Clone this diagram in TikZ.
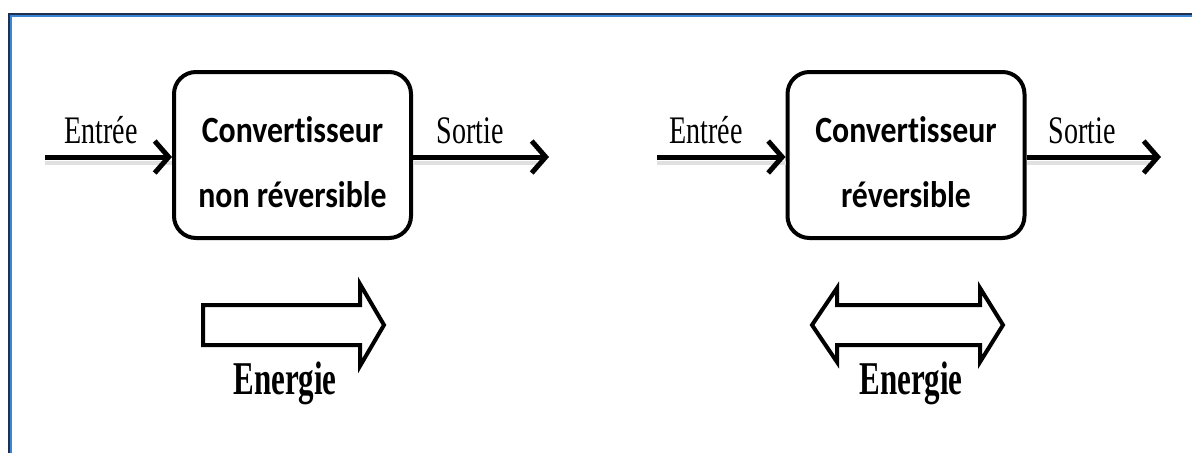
\documentclass[tikz,border=0pt]{standalone}
\usepackage{fontspec}
\setmainfont{Liberation Serif}
\newfontfamily\boxfont[FakeStretch=0.86,RawFeature=-liga]{Carlito}
\newfontfamily\lblfont[FakeStretch=0.72]{Liberation Serif}
\newfontfamily\enfont[FakeStretch=0.66]{Liberation Serif}
\usetikzlibrary{arrows.meta}
\definecolor{framedark}{HTML}{1F3050}
\definecolor{frameblue}{HTML}{3A86D6}
\begin{document}
\begin{tikzpicture}[x=1pt,y=-1pt,
  conv/.style={draw, line width=4pt, rounded corners=22pt, minimum width=237pt, minimum height=166pt, inner sep=0pt},
  convtext/.style={align=center, inner sep=0pt, font=\boxfont\bfseries\fontsize{37}{65}\selectfont},
  lbl/.style={font=\lblfont\fontsize{39}{44}\selectfont, inner sep=0pt, anchor=base},
  flow/.style={line width=5pt, -{Straight Barb[length=14pt,width=32pt]}},
  shadowline/.style={line width=4pt, black!12},
  bigarrow/.style={draw, line width=4pt, fill=white, line join=miter},
  en/.style={font=\enfont\bfseries\fontsize{47}{52}\selectfont, inner sep=0pt, anchor=base}
]
\useasboundingbox (0,0) rectangle (1192,453);
% frame
\draw[framedark, line width=2pt] (1192,13.5) -- (8.5,13.5) -- (8.5,453);
\draw[frameblue, line width=2pt] (1192,15.5) -- (10.5,15.5) -- (10.5,453);

% ---- left converter ----
\node[conv] (b1) at (292.5,155) {};
\node[convtext] (t1) at (292.5,162) {Convertisseur\\non réversible};
\coordinate (in1) at (45,157);
\coordinate (out1) at (549,157);
\draw[shadowline] ([yshift=-6pt]in1) -- ([yshift=-6pt]in1 -| b1.west);
\draw[shadowline] ([yshift=-6pt]out1 -| b1.east) -- ([yshift=-6pt,xshift=-12pt]out1);
\draw[flow] (in1) -- (in1 -| b1.west);
\draw[flow] (out1 -| b1.east) -- (out1);
\node[lbl] (e1) at (101,143) {Entrée};
\node[lbl] (s1) at (470,143) {Sortie};
\draw[bigarrow] (203,305) -- (360,305) -- (360,284) -- (384,325) -- (360,366) -- (360,345) -- (203,345) -- cycle;
\node[en] (en1) at (285,394) {Energie};

% ---- right converter ----
\node[conv] (b2) at (906,155) {};
\node[convtext] (t2) at (906,162) {Convertisseur\\réversible};
\coordinate (in2) at (657,157);
\coordinate (out2) at (1161,157);
\draw[shadowline] ([yshift=-6pt]in2) -- ([yshift=-6pt]in2 -| b2.west);
\draw[shadowline] ([yshift=-6pt]out2 -| b2.east) -- ([yshift=-6pt,xshift=-12pt]out2);
\draw[flow] (in2) -- (in2 -| b2.west);
\draw[flow] (out2 -| b2.east) -- (out2);
\node[lbl] (e2) at (706,143) {Entrée};
\node[lbl] (s2) at (1082,143) {Sortie};
\draw[bigarrow] (812,325) -- (837,288) -- (837,305) -- (980,305) -- (980,288) -- (1003,325) -- (980,362) -- (980,345) -- (837,345) -- (837,362) -- cycle;
\node[en] (en2) at (911,394) {Energie};
\end{tikzpicture}
\end{document}
